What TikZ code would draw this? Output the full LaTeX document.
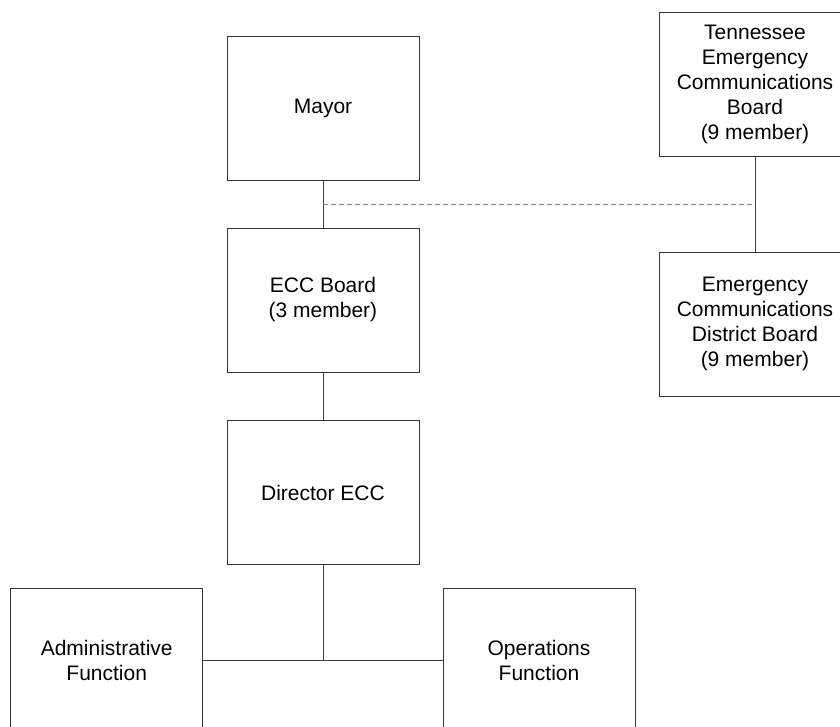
\documentclass[tikz,border=0pt]{standalone}
\usepackage{fontspec}
\setmainfont{Liberation Sans}
\begin{document}
\begin{tikzpicture}[x=1pt,y=-1pt,
  orgbox/.style={draw=black!80,line width=0.9pt,fill=white,minimum width=192pt,minimum height=144pt,
    align=center,inner sep=0pt,font=\fontsize{21}{25}\selectfont},
  link/.style={draw=black!75,line width=0.9pt},
  dotlink/.style={draw=black!50,line width=0.8pt,dash pattern=on 5pt off 3pt}]
\clip (0,0) rectangle (840,727);
\fill[white] (0,0) rectangle (840,727);
\node[orgbox] (mayor) at (323,108) {Mayor};
\node[orgbox] (ecc) at (323,300) {ECC Board\\(3 member)};
\node[orgbox] (dir) at (323,492.5) {Director ECC};
\node[orgbox] (admin) at (106.7,660) {Administrative\\Function};
\node[orgbox] (ops) at (539,660) {Operations\\Function};
\node[orgbox] (tn) at (755,84) {Tennessee\\Emergency\\Communications\\Board\\(9 member)};
\node[orgbox] (ecdb) at (755,324) {Emergency\\Communications\\District Board\\(9 member)};
\coordinate (j1) at (323,204);
\coordinate (j2) at (755,204);
\coordinate (j3) at (323,660);
\draw[link] (mayor.south) -- (ecc.north);
\draw[link] (ecc.south) -- (dir.north);
\draw[link] (tn.south) -- (ecdb.north);
\draw[link] (dir.south) -- (j3);
\draw[link] (admin.east) -- (ops.west);
\draw[dotlink] (j1) -- (j2);
\end{tikzpicture}
\end{document}
